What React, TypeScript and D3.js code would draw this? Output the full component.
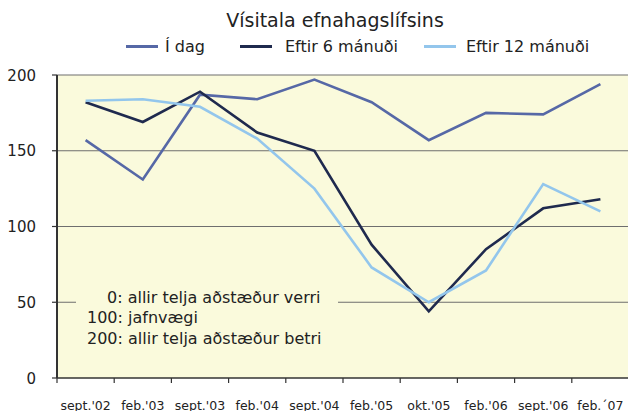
import React from 'react';
import * as d3 from 'd3';

const categories = ["sept.'02", "feb.'03", "sept.'03", "feb.'04", "sept.'04", "feb.'05", "okt.'05", "feb.'06", "sept.'06", "feb.´07"];
const iDag = [157, 131, 187, 184, 197, 182, 157, 175, 174, 194];
const eftir6 = [182, 169, 189, 162, 150, 88, 44, 85, 112, 118];
const eftir12 = [183, 184, 179, 158, 125, 73, 50, 71, 128, 110];
const yTicks = [0, 50, 100, 150, 200];
const notes = ['0: allir telja aðstæður verri', '100: jafnvægi', '200: allir telja aðstæður betri'];

const series = [
  { name: 'Í dag', values: iDag, color: '#5668A6' },
  { name: 'Eftir 6 mánuði', values: eftir6, color: '#1F2A4E' },
  { name: 'Eftir 12 mánuði', values: eftir12, color: '#93C6EC' },
];

const W = 628;
const H = 411;
const FONT = 'DejaVu Sans, Verdana, sans-serif';

export default function App() {
  const x = d3.scaleBand<string>().domain(categories).range([57, 629]).padding(0);
  const y = d3.scaleLinear().domain([0, 200]).range([378, 75]);
  const cx = (c: string) => (x(c) ?? 0) + x.bandwidth() / 2;

  const line = d3.line<number>()
    .x((_, i) => cx(categories[i]))
    .y(d => y(d));

  // legend: line start and text start
  const legendItems = [
    { lx: 126, tx: 165 },
    { lx: 240, tx: 285 },
    { lx: 424, tx: 466 },
  ];

  return (
    <svg width={W} height={H} style={{ position: 'absolute', left: 0, top: 0, fontFamily: FONT }}>
      <rect x={0} y={0} width={W} height={H} fill="#ffffff" />
      <text x={335} y={26.5} textAnchor="middle" fontSize={19} fill="#222">Vísitala efnahagslífsins</text>

      {series.map((s, i) => (
        <g key={s.name}>
          <line x1={legendItems[i].lx} x2={legendItems[i].lx + 32} y1={46.5} y2={46.5} stroke={s.color} strokeWidth={3} />
          <text x={legendItems[i].tx} y={52} fontSize={16} fill="#222">{s.name}</text>
        </g>
      ))}

      {/* plot area */}
      <rect x={57} y={y(200)} width={629 - 57} height={y(0) - y(200)} fill="#FAFADC" />
      {yTicks.filter(t => t > 0).map(t => (
        <line key={t} x1={57} x2={629} y1={y(t)} y2={y(t)} stroke="#6e6e6e" strokeWidth={1.2} />
      ))}

      {/* note box covers the 50 gridline */}
      <rect x={76} y={289} width={262} height={60} fill="#FAFADC" />
      {notes.map((n, i) => (
        <text key={n} x={i === 0 ? 107 : 87} y={303 + i * 20.3} fontSize={16} fill="#222">{n}</text>
      ))}

      {/* axes */}
      <line x1={57} x2={57} y1={y(200)} y2={y(0)} stroke="#333" strokeWidth={2} />
      <line x1={57} x2={629} y1={y(0)} y2={y(0)} stroke="#333" strokeWidth={1.5} />
      {yTicks.map(t => (
        <g key={t}>
          <line x1={52} x2={57} y1={y(t)} y2={y(t)} stroke="#333" strokeWidth={1.2} />
          <text x={36} y={y(t) + 5.5} textAnchor="end" fontSize={15} fill="#222">{t}</text>
        </g>
      ))}
      {categories.map(c => (
        <g key={c}>
          <line x1={x(c)!} x2={x(c)!} y1={y(0)} y2={y(0) + 5} stroke="#333" strokeWidth={1.2} />
          <text x={cx(c)} y={410} textAnchor="middle" fontSize={12.5} fill="#222">{c}</text>
        </g>
      ))}

      {series.map(s => (
        <path key={s.name} d={line(s.values) ?? ''} fill="none" stroke={s.color} strokeWidth={2.6} strokeLinejoin="miter" />
      ))}
    </svg>
  );
}
